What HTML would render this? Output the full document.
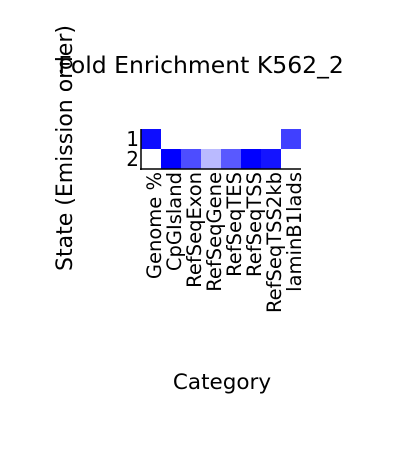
<!DOCTYPE html>
<html><head><meta charset="utf-8"><style>
body{margin:0;background:#fff;}
svg text{font-family:"DejaVu Sans","Liberation Sans",sans-serif;fill:#000;}
</style></head><body>
<svg width="402" height="445" viewBox="0 0 402 445" xmlns="http://www.w3.org/2000/svg">
<text x="201" y="73" font-size="23.5" text-anchor="middle">Fold Enrichment K562_2</text>
<text transform="translate(72,148) rotate(-90)" font-size="22" text-anchor="middle">State (Emission order)</text>
<text x="222" y="389" font-size="21.5" text-anchor="middle">Category</text>
<g id="cells"></g>
<g id="labels"></g>
<line x1="141" y1="129" x2="141" y2="170" stroke="#000" stroke-width="1.5"/>
<line x1="140" y1="169" x2="301" y2="169" stroke="#000" stroke-width="1.5"/>
</svg>
<script>
const categories=["Genome %","CpGIsland","RefSeqExon","RefSeqGene","RefSeqTES","RefSeqTSS","RefSeqTSS2kb","laminB1lads"];
const states=["1","2"];
const row1=[0.95,0,0,0,0,0,0,0.75];
const row2=[0,1,0.7,0.27,0.65,1,0.92,0];
const values=[row1,row2];
const NS="http://www.w3.org/2000/svg";
const x0=141,y0=129,cw=20,ch=20;
const xPos=i=>x0+i*cw, yPos=j=>y0+j*ch;
const color=v=>{const c=Math.round(255*(1-v));return `rgb(${c},${c},255)`;};
const cells=document.getElementById('cells'),labels=document.getElementById('labels');
values.forEach((row,j)=>row.forEach((v,i)=>{
 const r=document.createElementNS(NS,'rect');
 r.setAttribute('x',xPos(i));r.setAttribute('y',yPos(j));r.setAttribute('width',cw);r.setAttribute('height',ch);r.setAttribute('fill',color(v));
 
 
 cells.appendChild(r);
}));
states.forEach((s,j)=>{
 const t=document.createElementNS(NS,'text');
 t.setAttribute('x',x0-2);t.setAttribute('y',yPos(j)+ch/2+7);t.setAttribute('font-size','20');t.setAttribute('text-anchor','end');t.textContent=s;
 
 
 labels.appendChild(t);
});
categories.forEach((c,i)=>{
 const t=document.createElementNS(NS,'text');
 const x=xPos(i)+cw/2+10,y=172;
 t.setAttribute('transform',`translate(${x},${y}) rotate(-90)`);t.setAttribute('font-size','19.5');t.setAttribute('text-anchor','end');t.textContent=c;
 
 
 labels.appendChild(t);
});
</script>
</body></html>
